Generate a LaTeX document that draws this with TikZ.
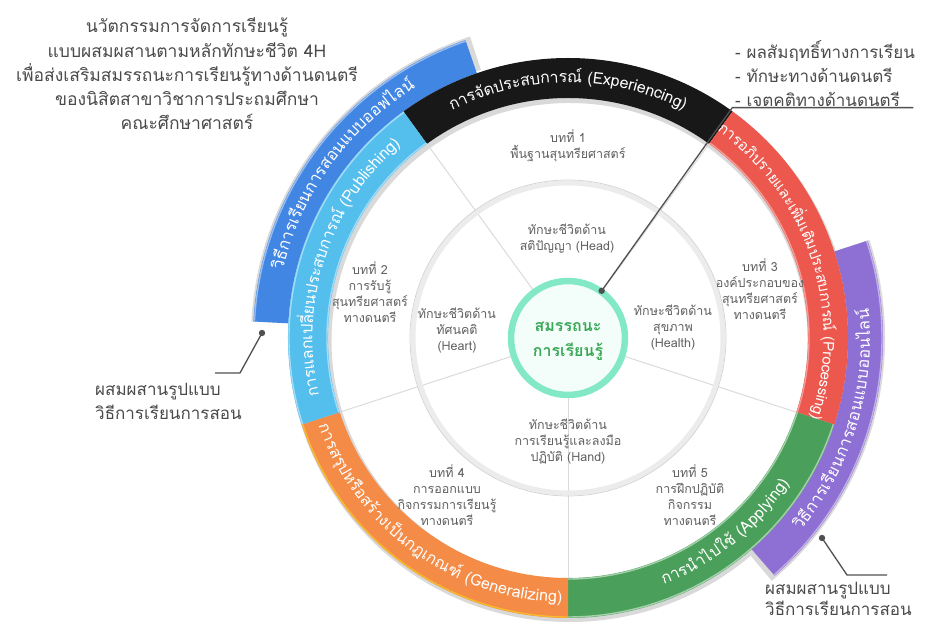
\documentclass[tikz,border=0pt]{standalone}
\usepackage{fontspec}
\setmainfont[Script=Thai]{Loma}
\usetikzlibrary{decorations.text,calc}

\definecolor{cBlack}{RGB}{24,24,24}
\definecolor{cRed}{RGB}{236,88,78}
\definecolor{cGreen}{RGB}{74,160,90}
\definecolor{cOrange}{RGB}{244,140,72}
\definecolor{cCyan}{RGB}{84,190,236}
\definecolor{cBlue}{RGB}{66,134,228}
\definecolor{cPurple}{RGB}{142,112,212}
\definecolor{cMint}{RGB}{130,232,198}
\definecolor{cTxt}{RGB}{74,74,74}
\definecolor{cInner}{RGB}{96,96,96}
\definecolor{cCore}{RGB}{58,168,88}
\definecolor{cPtr}{RGB}{80,80,80}

\newcommand\myseg[5]{% colour, a1, a2, rin, rout
  \fill[#1] ($(C)+(#2:#4)$) arc[start angle=#2,end angle=#3,radius=#4]
    -- ($(C)+(#3:#5)$) arc[start angle=#3,end angle=#2,radius=#5] -- cycle;}
\newcommand\myedge[4]{% colour, a1, a2, r
  \draw[#1,line width=1.4pt] ($(C)+(#2:#4)$) arc[start angle=#2,end angle=#3,radius=#4];}
\newcommand\arctext[4]{% a1, a2, r, text
  \path[decorate,decoration={text along path,text align=center,raise=-4.5pt,text={#4}}]
    ($(C)+(#1:#3)$) arc[start angle=#1,end angle=#2,radius=#3];}
\newcommand\ringfont{\fontsize{16}{16}\selectfont\color{white}}
\newcommand\redfont{\fontsize{15}{15}\selectfont\color{white}}
\newcommand\bandfont{\fontsize{16.5}{16.5}\selectfont\color{white}}

\tikzset{
  inlbl/.style={align=center,text=cInner,font=\fontsize{12.5}{16}\selectfont,inner sep=0pt},
  bigtxt/.style={text=cTxt,font=\fontsize{17}{24}\selectfont,inner sep=0pt},
  ptr/.style={draw=cPtr,line width=1.3pt},
  ptrdot/.style={fill=cPtr},
  radline/.style={draw=gray!28,line width=1pt}
}

\begin{document}
\begin{tikzpicture}[x=1pt,y=1pt]
\useasboundingbox (0,0) rectangle (932,623);
\fill[white] (0,0) rectangle (932,623);
\coordinate (C) at (568,285);

% shadows
\fill[gray!30,even odd rule] ($(C)+(1.5,-3)$) circle (281) circle (238);
\myseg{gray!30}{108}{177}{282}{317}
\myseg{gray!30}{-50}{18}{282}{317}

% outer bands
\begin{scope}[shift={(-1.5,3)}]
\myseg{cBlue}{109}{177}{280}{315}
\myseg{cPurple}{-49}{18}{280}{315}
\myedge{cBlue!55!white}{109}{177}{314}
\myedge{cPurple!55!white}{-49}{18}{314}
\end{scope}

% main ring
\myseg{cBlack}{54}{126}{240}{280}
\myseg{cRed}{-18}{54}{240}{280}
\myseg{cGreen}{-90}{-18}{240}{280}
\myseg{cOrange}{198}{270}{240}{280}
\myseg{cCyan}{126}{198}{240}{280}
\myedge{cRed!60!white}{-18}{54}{241}
\myedge{cGreen!50!white}{-90}{-18}{241}
\myedge{cGreen!50!white}{-90}{-18}{279}
\myedge{cOrange!60!yellow}{198}{270}{279}
\myedge{cCyan!55!white}{126}{198}{241}
\myedge{cCyan!55!white}{126}{198}{279}

% inner structure
\foreach \a in {126,198,270,-18,54}
  \draw[radline] ($(C)+(\a:60)$) -- ($(C)+(\a:240)$);
\draw[gray!15,line width=5pt] (C) circle (155);
\draw[gray!35,line width=0.7pt] (C) circle (158);
\fill[cMint!10] (C) circle (57);
\draw[cMint,line width=6.5pt] (C) circle (57);

% ring texts
\arctext{126}{54}{260}{|\ringfont|การ{จั}ดประสบการ{ณ์} (Experiencing)}
\arctext{54}{-18}{260}{|\redfont|การอ{ภิ}ปรายและเ{พิ่}มเ{ติ}มประสบการ{ณ์} (Processing)}
\arctext{-84}{-18}{260}{|\ringfont|การ{นำ}ไปใ{ช้} (Applying)}
\arctext{198}{270}{260}{|\ringfont|การส{รุ}ปห{รื}อส{ร้}างเ{ป็}นกฎเกณ{ฑ์} (Generalizing)}
\arctext{198}{126}{260}{|\ringfont|การแลกเป{ลี่}ยนประสบการ{ณ์} (Publishing)}
\begin{scope}[shift={(-1.5,3)}]
\arctext{177}{111}{297.5}{|\bandfont|{วิ}{ธี}การเรียนการสอนแบบออฟไล{น์}}
\arctext{-49}{15}{297.5}{|\bandfont|{วิ}{ธี}การเรียนการสอนแบบออนไล{น์}}
\end{scope}

% inner labels
\node[inlbl] (ch1) at (568,477.5) {บทที่ 1\\พื้นฐานสุนทรียศาสตร์};
\node[inlbl] (ch2) at (370,330.5) {บทที่ 2\\การรับรู้\\สุนทรียศาสตร์\\ทางดนตรี};
\node[inlbl] (ch3) at (760,334) {บทที่ 3\\องค์ประกอบของ\\สุนทรียศาสตร์\\ทางดนตรี};
\node[inlbl] (ch4) at (447,128) {บทที่ 4\\การออกแบบ\\กิจกรรมการเรียนรู้\\ทางดนตรี};
\node[inlbl] (ch5) at (690,128) {บทที่ 5\\การฝึกปฏิบัติ\\กิจกรรม\\ทางดนตรี};
\node[inlbl] (head) at (567,384.5) {ทักษะชีวิตด้าน\\สติปัญญา (Head)};
\node[inlbl] (heart) at (457,292) {ทักษะชีวิตด้าน\\ทัศนคติ\\(Heart)};
\node[inlbl] (health) at (673,295.5) {ทักษะชีวิตด้าน\\สุขภาพ\\(Health)};
\node[inlbl] (hand) at (568,181) {ทักษะชีวิตด้าน\\การเรียนรู้และลงมือ\\ปฏิบัติ (Hand)};
\node[align=center,text=cCore,font=\fontsize{16}{25}\selectfont\bfseries,inner sep=0pt] (core) at (568,282) {สมรรถนะ\\การเรียนรู้};

% outside texts
\node[bigtxt,align=center,font=\fontsize{17.5}{24.3}\selectfont] (title) at (187,549) {นวัตกรรมการจัดการเรียนรู้\\แบบผสมผสานตามหลักทักษะชีวิต 4H\\เพื่อส่งเสริมสมรรถนะการเรียนรู้ทางด้านดนตรี\\ของนิสิตสาขาวิชาการประถมศึกษา\\คณะศึกษาศาสตร์};
\node[bigtxt,align=left,anchor=west] (res) at (735,549) {- ผลสัมฤทธิ์ทางการเรียน\\- ทักษะทางด้านดนตรี\\- เจตคติทางด้านดนตรี};
\node[bigtxt,align=left,anchor=west] (mixL) at (95,221.5) {ผสมผสานรูปแบบ\\วิธีการเรียนการสอน};
\node[bigtxt,align=left,anchor=west,font=\fontsize{17}{21}\selectfont] (mixR) at (765,24) {ผสมผสานรูปแบบ\\วิธีการเรียนการสอน};

% pointers
\coordinate (dotR) at ($(C)+(54.5:58)$);
\coordinate (kneeR) at ($(C)+(54.5:283)$);
\path (kneeR) ++(181,0) coordinate (ulR);
\draw[ptr] (dotR) -- (kneeR) -- (ulR);
\fill[ptrdot] (dotR) circle (3.2);

\coordinate (dotL) at (262,290);
\coordinate (kneeL) at (240,250);
\coordinate (endL) at (215,250);
\draw[ptr] (dotL) -- (kneeL) -- (endL);
\fill[ptrdot] (dotL) circle (3.2);

\coordinate (dotB) at (822,85);
\coordinate (kneeB) at (847,48);
\coordinate (endB) at (887,48);
\draw[ptr] (dotB) -- (kneeB) -- (endB);
\fill[ptrdot] (dotB) circle (3.2);
\end{tikzpicture}
\end{document}
